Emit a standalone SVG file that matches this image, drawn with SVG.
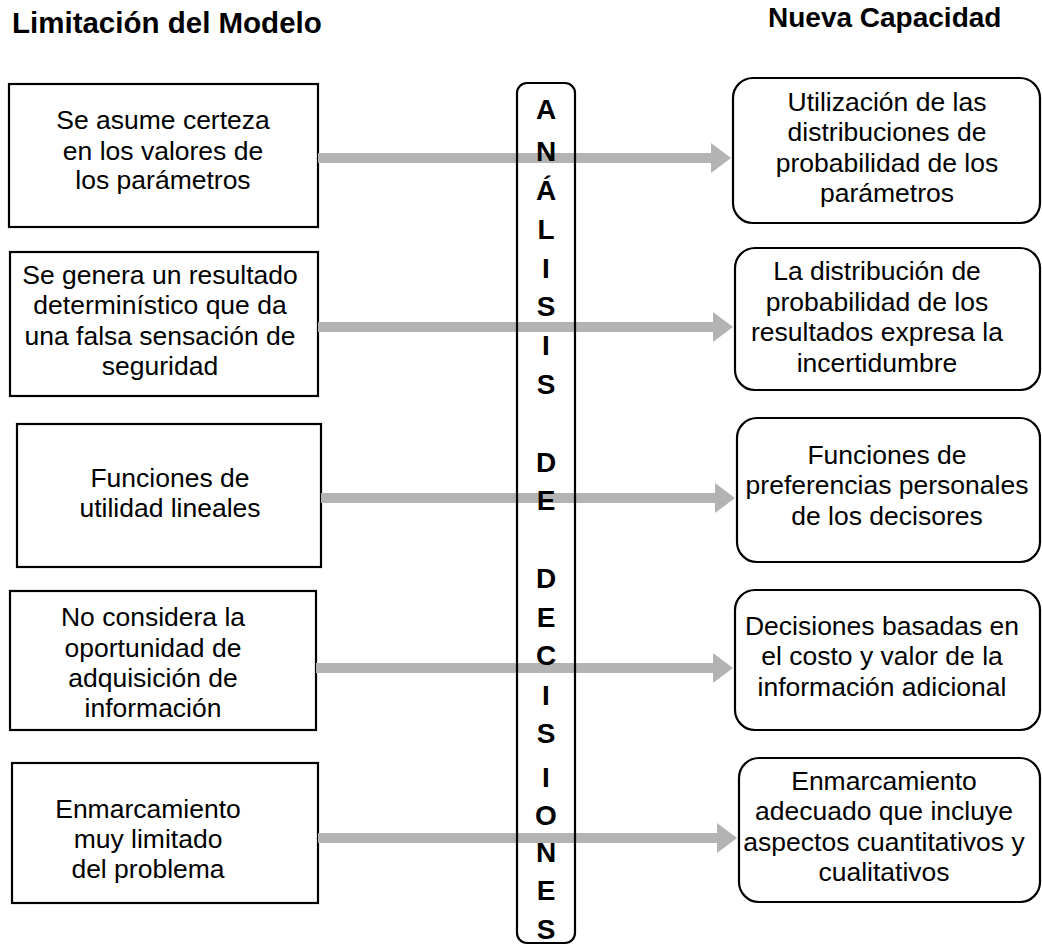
<svg xmlns="http://www.w3.org/2000/svg" width="1042" height="946" viewBox="0 0 1042 946">
<style>
.hdr{font-family:"Liberation Sans",Arial,sans-serif;font-weight:bold;font-size:28px;fill:#000}
.box{fill:#fff;stroke:#000;stroke-width:2.2}
.t{font-family:"Liberation Sans",Arial,sans-serif;font-size:26.5px;fill:#000;text-anchor:middle}
.arr{fill:#b3b3b3;stroke:none}
.col{font-family:"Liberation Sans",Arial,sans-serif;font-weight:bold;font-size:28px;fill:#000;text-anchor:middle}
</style>
<rect width="1042" height="946" fill="#fff"/>
<text class="hdr" x="12" y="33" style="font-size:29.5px">Limitación del Modelo</text>
<text class="hdr" x="768" y="27">Nueva Capacidad</text>

<g id="left1"><rect class="box" x="9" y="84" width="309" height="143"/>
<text class="t" x="163" y="129">Se asume certeza</text><text class="t" x="163" y="160">en los valores de</text><text class="t" x="163" y="189">los parámetros</text></g>
<g id="left2"><rect class="box" x="10" y="252" width="308" height="144"/>
<text class="t" x="160" y="284">Se genera un resultado</text><text class="t" x="160" y="314">determinístico que da</text><text class="t" x="160" y="345">una falsa sensación de</text><text class="t" x="160" y="375">seguridad</text></g>
<g id="left3"><rect class="box" x="17" y="424" width="304" height="143"/>
<text class="t" x="170" y="487">Funciones de</text><text class="t" x="170" y="517">utilidad lineales</text></g>
<g id="left4"><rect class="box" x="10" y="591" width="306" height="139"/>
<text class="t" x="153" y="626">No considera la</text><text class="t" x="153" y="657">oportunidad de</text><text class="t" x="153" y="687">adquisición de</text><text class="t" x="153" y="717">información</text></g>
<g id="left5"><rect class="box" x="12" y="763" width="306" height="140"/>
<text class="t" x="148" y="818">Enmarcamiento</text><text class="t" x="148" y="848">muy limitado</text><text class="t" x="148" y="878">del problema</text></g>

<g id="connectors">
<path class="arr" d="M318,153 H711 V143 L731,158 L711,173 V163 H318 Z"/>
<path class="arr" d="M318,322 H713 V312 L733,327 L713,342 V332 H318 Z"/>
<path class="arr" d="M321,493 H715 V483 L735,498 L715,513 V503 H321 Z"/>
<path class="arr" d="M316,663 H713 V653 L733,668 L713,683 V673 H316 Z"/>
<path class="arr" d="M318,833 H717 V823 L737,838 L717,853 V843 H318 Z"/>
</g>

<g id="right1"><rect class="box" x="733" y="78" width="307" height="145" rx="20"/>
<text class="t" x="887" y="111">Utilización de las</text><text class="t" x="887" y="141">distribuciones de</text><text class="t" x="887" y="172">probabilidad de los</text><text class="t" x="887" y="202">parámetros</text></g>
<g id="right2"><rect class="box" x="735" y="248" width="305" height="142" rx="20"/>
<text class="t" x="877" y="280">La distribución de</text><text class="t" x="877" y="311">probabilidad de los</text><text class="t" x="877" y="341">resultados expresa la</text><text class="t" x="877" y="372">incertidumbre</text></g>
<g id="right3"><rect class="box" x="737" y="418" width="303" height="144" rx="20"/>
<text class="t" x="887" y="464">Funciones de</text><text class="t" x="887" y="494">preferencias personales</text><text class="t" x="887" y="525">de los decisores</text></g>
<g id="right4"><rect class="box" x="735" y="590" width="305" height="140" rx="20"/>
<text class="t" x="882" y="635">Decisiones basadas en</text><text class="t" x="882" y="665">el costo y valor de la</text><text class="t" x="882" y="696">información adicional</text></g>
<g id="right5"><rect class="box" x="739" y="758" width="301" height="144" rx="20"/>
<text class="t" x="884" y="790">Enmarcamiento</text><text class="t" x="884" y="820">adecuado que incluye</text><text class="t" x="884" y="851">aspectos cuantitativos y</text><text class="t" x="884" y="881">cualitativos</text></g>

<g id="center">
<rect x="517" y="83" width="58" height="860" rx="10" fill="none" stroke="#000" stroke-width="2.2"/>
<text class="col" x="546" y="119">A</text>
<text class="col" x="546" y="161">N</text>
<text class="col" x="546" y="200">Á</text>
<text class="col" x="546" y="239">L</text>
<text class="col" x="546" y="278">I</text>
<text class="col" x="546" y="316">S</text>
<text class="col" x="546" y="355">I</text>
<text class="col" x="546" y="394">S</text>
<text class="col" x="546" y="472">D</text>
<text class="col" x="546" y="510">E</text>
<text class="col" x="546" y="588">D</text>
<text class="col" x="546" y="627">E</text>
<text class="col" x="546" y="665">C</text>
<text class="col" x="546" y="705">I</text>
<text class="col" x="546" y="743">S</text>
<text class="col" x="546" y="787">I</text>
<text class="col" x="546" y="825">O</text>
<text class="col" x="546" y="862">N</text>
<text class="col" x="546" y="900">E</text>
<text class="col" x="546" y="939">S</text>
</g>
</svg>
